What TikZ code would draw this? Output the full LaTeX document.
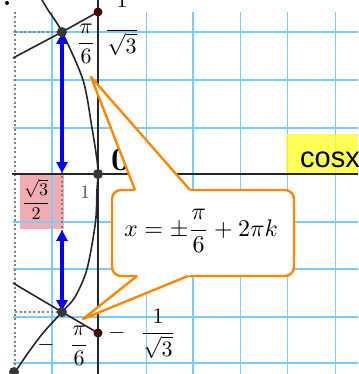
\documentclass[tikz,border=0pt]{standalone}
\usepackage{fontspec}
\usepackage{amsmath}
\usepackage{graphicx}
\usetikzlibrary{arrows.meta}
\newfontfamily\arialfont{Liberation Sans}
\definecolor{gridc}{RGB}{120,204,255}
\definecolor{pinkc}{RGB}{240,172,178}
\definecolor{yelc}{RGB}{255,255,40}
\definecolor{orc}{RGB}{255,135,0}
\definecolor{dotc}{RGB}{55,55,55}
\definecolor{redc}{RGB}{70,5,5}
\definecolor{bluec}{RGB}{0,0,255}
\tikzset{
  gridline/.style={draw=gridc, line width=1.6pt},
  axisline/.style={draw=black!85, line width=1.7pt},
  curveline/.style={draw=black!85, line width=1.6pt},
  dotline/.style={draw=black!50, line width=1.5pt, dash pattern=on 2pt off 2.5pt},
  barrow/.style={draw=bluec, line width=4pt,
    {Triangle[width=11pt,length=11pt]}-{Triangle[width=11pt,length=11pt]}},
  callout/.style={draw=orc, line width=2.4pt, line join=round},
  lab/.style={inner sep=0pt, anchor=base},
}
\begin{document}
\begin{tikzpicture}[x=1pt,y=-1pt]
\useasboundingbox (0,0) rectangle (358,374);
\clip (0,0) rectangle (358,374);
% key points
\coordinate (P1) at (62,32);
\coordinate (P2) at (62,312);
\coordinate (O) at (98,174);
\coordinate (T1) at (98,12);
\coordinate (T2) at (98,333);
\coordinate (L1) at (13,58);
\coordinate (L2) at (13,283);
\coordinate (B) at (14,372);
\coordinate (D1) at (15,32);
\coordinate (D2) at (15,312);
% pink box
\fill[pinkc] (20,174) rectangle (64,229);
% grid
\foreach \gx in {52,146.5,193,240.5,287.5,335.5}
  \draw[gridline] (\gx,12) -- (\gx,374);
\foreach \gy in {32,80,128,222,269,317,363}
  \draw[gridline] (13,\gy) -- (358,\gy);
% yellow box
\fill[yelc, fill opacity=0.78] (286,134) rectangle (358,174);
% dotted guides
\draw[dotline] (15,12) -- (15,374);
\draw[dotline] (D1) -- (P1);
\draw[dotline] (D2) -- (P2);
\draw[dotline] (P1) -- (P2);
% axes
\draw[axisline] (12,174) -- (358,174);
\draw[axisline] (98,0) -- (98,374);
% curve
\draw[curveline] plot[smooth] coordinates {(36,-10) (42,0) (48,10) (62,32) (83,80) (92,128) (97,160) (98,174) (97,190) (95.5,222) (87,269) (75,297) (62,312) (43,333) (28,353) (15,372) (8,382)};
% rays
\draw[curveline] (L1) -- (P1) -- (T1);
\draw[curveline] (L2) -- (P2) -- (T2);
% blue arrows
\coordinate (A1) at (62,33);
\coordinate (A2) at (62,173);
\coordinate (A3) at (62,230);
\coordinate (A4) at (62,311);
\draw[barrow] (A1) -- (A2);
\draw[barrow] (A3) -- (A4);
% dots
\fill[dotc] (O) circle[radius=5pt];
\fill[dotc] (P1) circle[radius=5pt];
\fill[dotc] (P2) circle[radius=5pt];
\fill[dotc] (B) circle[radius=5pt];
\fill[redc] (T1) circle[radius=4.5pt];
\fill[redc] (T2) circle[radius=4.5pt];
\fill[black] (7,3) circle[radius=2pt];
% labels
\node[lab] (l1) at (86,48.5) {\scalebox{2.2}{$\dfrac{\pi}{6}$}};
\node[lab] (l2) at (122,35.5) {\scalebox{2.2}{$\dfrac{1\rule[-9pt]{0pt}{0pt}}{\sqrt{3}}$}};
\node[lab] (l3) at (36,207.5) {\scalebox{1.8}{$\dfrac{\sqrt{3}}{2}$}};
\node[lab, text=black!70] (l4) at (85,198) {\scalebox{1.9}{1}};
\node[lab] (l5) at (46,350.5) {\scalebox{2.2}{$-$}};
\node[lab] (l6) at (79,350.5) {\scalebox{2.2}{$\dfrac{\pi}{6}$}};
\node[lab] (l7) at (117,338.5) {\scalebox{2.2}{$-$}};
\node[lab] (l8) at (158,338.5) {\scalebox{2.2}{$\dfrac{1}{\sqrt{3}}$}};
\node[inner sep=0pt, anchor=base west] (zero) at (111,170) {\scalebox{3.3}{\bfseries 0}};
\node[inner sep=0pt, anchor=base west, font=\arialfont\fontsize{29}{32}\selectfont] (cos) at (300,167) {cosx};
% callout
\fill[white] (136.2,193) -- (91,77) -- (192.6,193) -- cycle;
\fill[white] (140.8,273) -- (83,319) -- (195.3,273) -- cycle;
\draw[callout, fill=white, rounded corners=9pt] (112,190) rectangle (294,276);
\fill[white] (136.2,193) -- (91,77) -- (192.6,193) -- cycle;
\fill[white] (140.8,273) -- (83,319) -- (195.3,273) -- cycle;
\coordinate (C1) at (91,77);
\coordinate (C2) at (83,319);
\draw[callout] (135,190) -- (C1) -- (190,190);
\draw[callout] (137,276) -- (C2) -- (188,276);
\node[lab] (f) at (201,236) {\scalebox{2.4}{$x=\pm\dfrac{\pi}{6}+2\pi k$}};
\end{tikzpicture}
\end{document}
